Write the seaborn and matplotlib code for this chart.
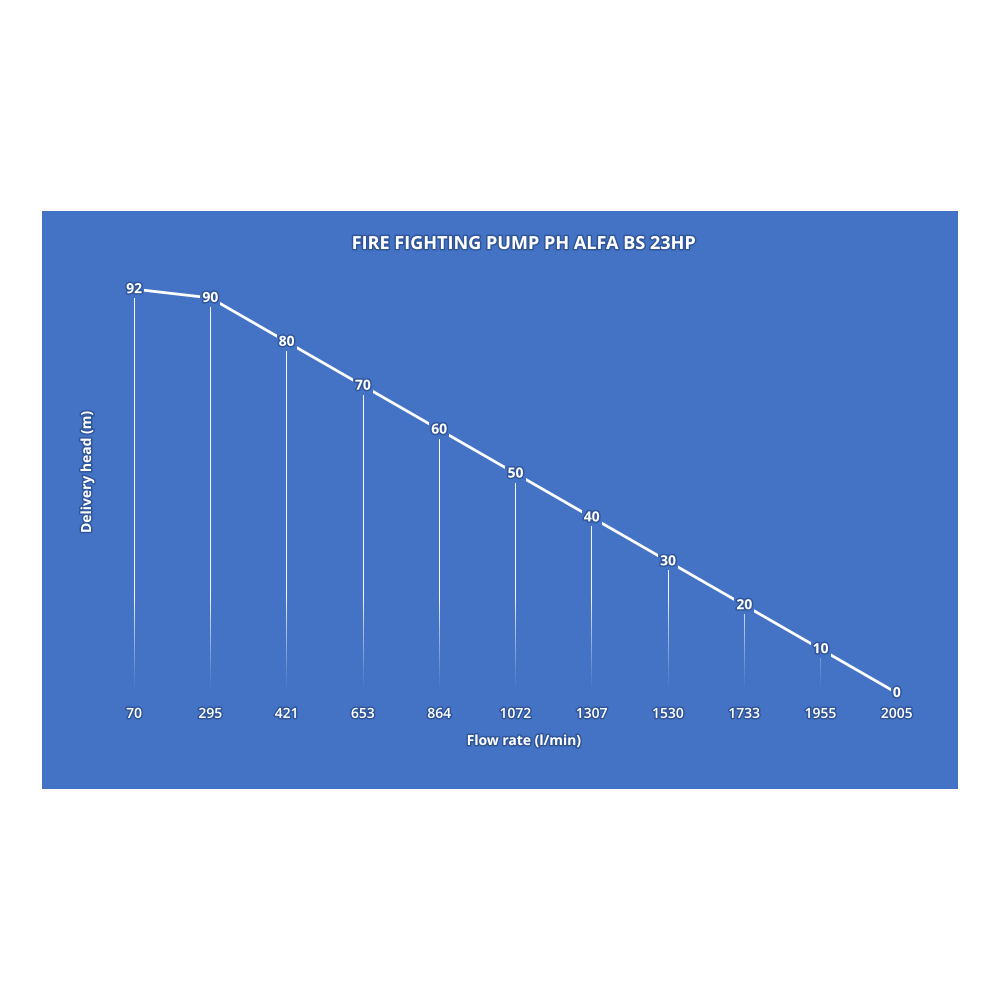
import numpy as np
import pandas as pd
import matplotlib
matplotlib.use("Agg")
import matplotlib.pyplot as plt
import seaborn as sns
from matplotlib.patches import Rectangle
import matplotlib.patheffects as pe

flow_labels = ["70", "295", "421", "653", "864", "1072", "1307", "1530", "1733", "1955", "2005"]
head = [92, 90, 80, 70, 60, 50, 40, 30, 20, 10, 0]
title = "FIRE FIGHTING PUMP PH ALFA BS 23HP"
xlabel = "Flow rate (l/min)"
ylabel = "Delivery head (m)"

BLUE = "#4472C4"
GLOW = "#1F3F7A"
FADE = 22.0  # height (data units) over which drop lines fade out

sns.set_theme(style="white")
plt.rcParams["font.family"] = ["Open Sans", "DejaVu Sans"]

fig = plt.figure(figsize=(10, 10), dpi=100)
fig.patch.set_facecolor("white")
fig.add_artist(Rectangle((0.042, 0.211), 0.916, 0.578, transform=fig.transFigure,
                         facecolor=BLUE, edgecolor="none", zorder=0))

ax = fig.add_axes([0.096, 0.307, 0.839, 0.439])
ax.set_facecolor("none")
ax.patch.set_alpha(0)

df = pd.DataFrame({"pos": np.arange(len(head)), "head": head})
sns.lineplot(data=df, x="pos", y="head", ax=ax, color="white", linewidth=2.0,
             sort=False, zorder=3, solid_capstyle="butt")

# drop lines with a fade near the base (drawn as thin gradient images)
hw = 0.0048
for i, v in enumerate(head):
    if v <= 0:
        continue
    n = 400
    yy = np.linspace(v, 0, n)
    alpha = 0.95 * np.clip(yy / FADE, 0, 1) ** 1.2
    img = np.ones((n, 1, 4))
    img[:, 0, 3] = alpha
    ax.imshow(img, extent=(i - hw, i + hw, 0, v), aspect="auto",
              interpolation="bilinear", zorder=2, origin="upper")

glow = [pe.withStroke(linewidth=2.2, foreground=GLOW, alpha=0.55)]
for i, v in enumerate(head):
    ax.text(i, v, str(v), ha="center", va="center", color="white", fontsize=10,
            fontweight="bold", zorder=5, path_effects=glow,
            bbox=dict(boxstyle="square,pad=0.15", facecolor=BLUE, edgecolor="none"))

ax.set_xlim(-0.5, len(head) - 0.5)
ax.set_ylim(0, 100)
ax.set_xticks(np.arange(len(head)))
ax.set_xticklabels(flow_labels, color="white", fontsize=10, fontweight="semibold",
                   path_effects=glow)
ax.set_yticks([])
ax.tick_params(axis="x", length=0, pad=10)
for s in ax.spines.values():
    s.set_visible(False)

ax.set_xlabel("")
ax.set_ylabel("")
fig.text(0.524, 1 - 0.741, xlabel, ha="center", va="center", color="white",
         fontsize=10, fontweight="bold", path_effects=glow)
fig.text(0.087, 1 - 0.472, ylabel, ha="center", va="center", rotation=90,
         color="white", fontsize=10, fontweight="bold", path_effects=glow)
fig.text(0.523, 1 - 0.244, title, ha="center", va="center", color="white",
         fontsize=13, fontweight="bold", path_effects=glow)

fig.savefig("out.png", dpi=100, facecolor="white")
